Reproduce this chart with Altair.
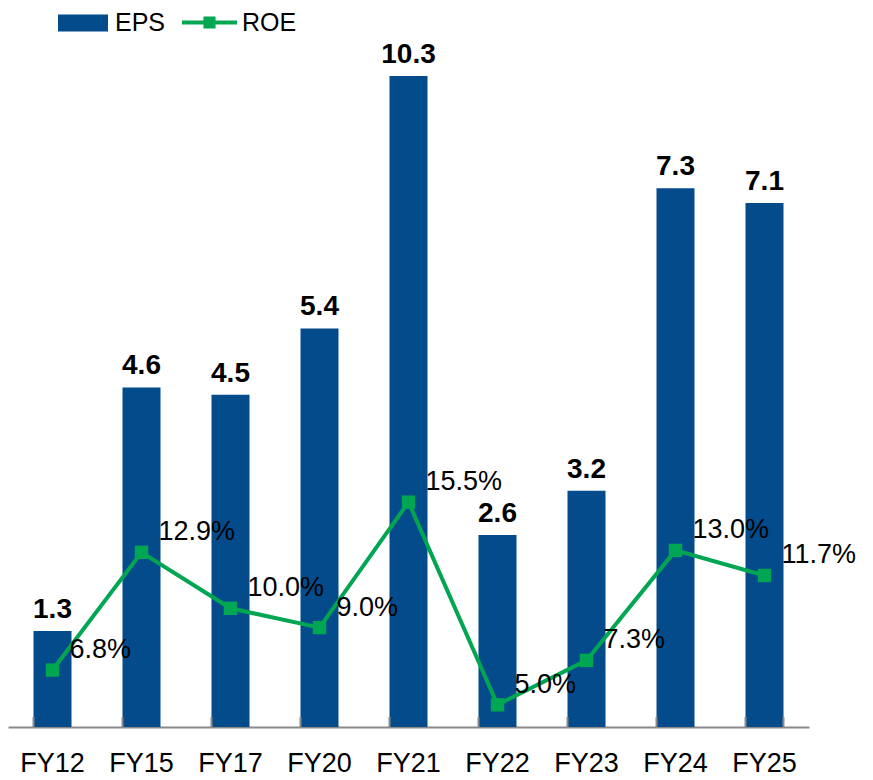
import altair as alt
import pandas as pd

categories = ["FY12", "FY15", "FY17", "FY20", "FY21", "FY22", "FY23", "FY24", "FY25"]
eps_values = [1.3, 4.6, 4.5, 5.4, 10.3, 2.6, 3.2, 7.3, 7.1]
roe_values = [6.8, 12.9, 10.0, 9.0, 15.5, 5.0, 7.3, 13.0, 11.7]

BLUE = "#034B8B"
GREEN = "#00A651"
AXIS_GRAY = "#8A8A8A"
FONT = "Liberation Sans, Arial, sans-serif"

df = pd.DataFrame({"cat": categories, "eps": eps_values, "roe": roe_values})

base = alt.Chart(df)

xscale = alt.Scale(paddingInner=0.573, paddingOuter=0.2865)
xaxis = alt.Axis(
    title=None, labelAngle=0, labelFont=FONT, labelFontSize=27, labelColor="black",
    labelBaseline="alphabetic", labelPadding=44, ticks=False,
    domainColor=AXIS_GRAY, domainWidth=2,
)


def X(**kw):
    return alt.X("cat:N", sort=categories, scale=xscale, axis=xaxis, **kw)


yeps = alt.Scale(domain=[0, 8.82], clamp=True)
yroe = alt.Scale(domain=[3.85, 37.58])

bars = base.transform_calculate(series="'EPS'").mark_bar(clip=True).encode(
    x=X(),
    y=alt.Y("eps:Q", scale=yeps, axis=None),
    color=alt.Color(
        "series:N",
        scale=alt.Scale(domain=["EPS"], range=[BLUE]),
        legend=alt.Legend(
            title=None, orient="none", legendX=50, legendY=-78,
            symbolType="M-1,-0.34H1V0.34H-1Z", symbolSize=2500,
            symbolStrokeWidth=0, labelFont=FONT, labelFontSize=25,
            labelColor="black", labelOffset=7, padding=0,
        ),
    ),
)

bar_labels = base.mark_text(
    font=FONT, fontSize=28, fontWeight="bold", color="black",
    baseline="alphabetic", dy=-13,
).encode(
    x=X(),
    y=alt.Y("eps:Q", scale=yeps, axis=None),
    text=alt.Text("eps:Q", format=".1f"),
)

ticks = base.mark_rule(color=AXIS_GRAY, strokeWidth=2).encode(
    x=X(bandPosition=0),
    y=alt.value(641),
    y2=alt.value(651),
)
end_tick = base.transform_filter(
    alt.datum.cat == categories[-1]
).mark_rule(color=AXIS_GRAY, strokeWidth=2).encode(
    x=X(bandPosition=1),
    y=alt.value(641),
    y2=alt.value(651),
)

line = base.mark_line(color=GREEN, strokeWidth=4).encode(
    x=X(),
    y=alt.Y("roe:Q", scale=yroe, axis=None),
)

points = base.transform_calculate(series="'ROE'").mark_point(
    shape="square", filled=True, size=180, opacity=1
).encode(
    x=X(),
    y=alt.Y("roe:Q", scale=yroe, axis=None),
    color=alt.Color(
        "series:N",
        scale=alt.Scale(domain=["ROE"], range=[GREEN]),
        legend=alt.Legend(
            title=None, orient="none", legendX=174, legendY=-81,
            symbolType="M-1,-0.07H1V0.07H-1Z M-0.22,-0.22H0.22V0.22H-0.22Z",
            symbolSize=3025, symbolStrokeWidth=0, symbolOpacity=1,
            labelFont=FONT, labelFontSize=25, labelColor="black",
            labelOffset=5, padding=0,
        ),
    ),
)

roe_labels = base.transform_calculate(
    lbl="format(datum.roe, '.1f') + '%'"
).mark_text(
    font=FONT, fontSize=27, color="black", align="left", baseline="middle",
    dx=17, dy=-20,
).encode(
    x=X(),
    y=alt.Y("roe:Q", scale=yroe, axis=None),
    text="lbl:N",
)

eps_layer = alt.layer(bars, bar_labels, ticks, end_tick)
roe_layer = alt.layer(line, points, roe_labels)

chart = alt.layer(eps_layer, roe_layer).resolve_scale(
    y="independent", color="independent"
).properties(
    width=801,
    height=651,
    autosize=alt.AutoSizeParams(type="none"),
    padding={"left": 0, "top": 68, "right": 56, "bottom": 50},
    background="white",
).configure_view(stroke=None)

chart.save("out.html", embed_options={"renderer": "svg", "actions": False})
